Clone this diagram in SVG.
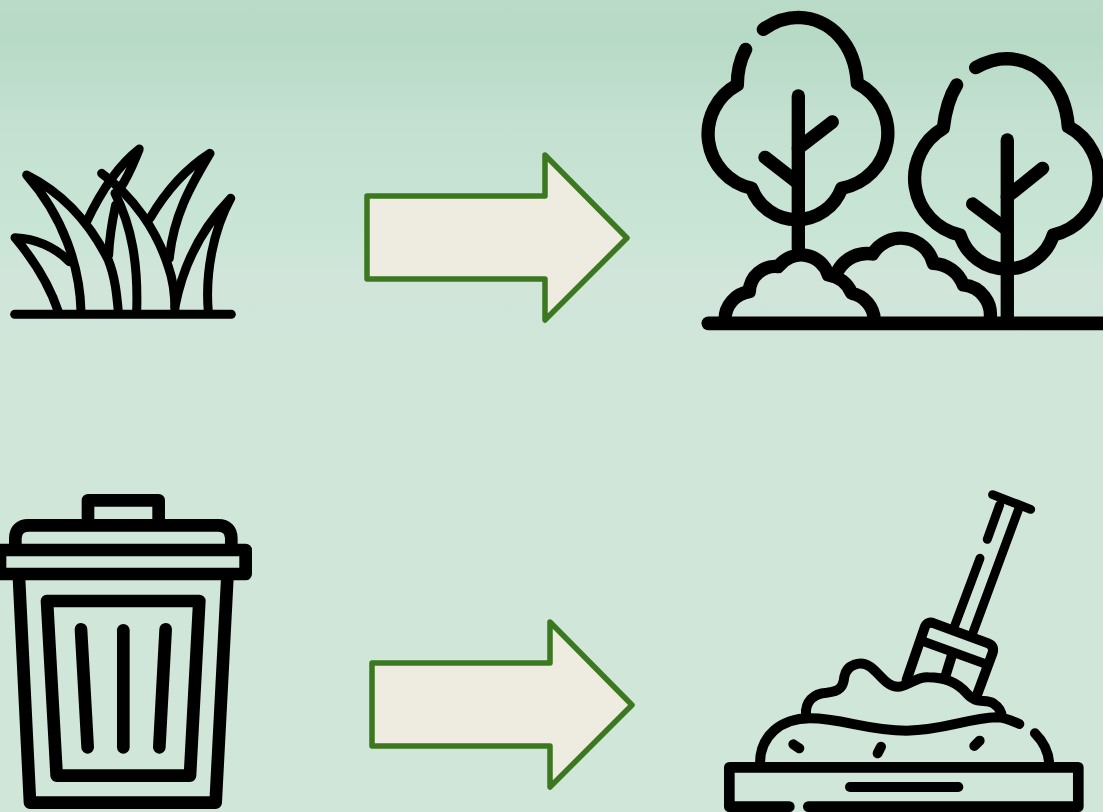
<svg xmlns="http://www.w3.org/2000/svg" width="1103" height="812" viewBox="0 0 1103 812">
<defs>
<linearGradient id="bg" x1="0" y1="0" x2="0" y2="1">
<stop offset="0" stop-color="#b9dbc7"/><stop offset="0.05" stop-color="#b7dac6"/><stop offset="0.14" stop-color="#c3e0d0"/><stop offset="0.29" stop-color="#c9e5d6"/><stop offset="0.34" stop-color="#d2e5da"/><stop offset="0.42" stop-color="#cfe6d9"/><stop offset="1" stop-color="#cfe6d9"/>
</linearGradient>
</defs>
<style>
.ic{fill:none;stroke:#000;stroke-linecap:round;stroke-linejoin:round}
.arrow{fill:#eeece0;stroke:#3b781f;stroke-width:5.5;stroke-linejoin:round}
</style>
<rect width="1103" height="812" fill="url(#bg)"/>
<g id="grass" class="ic" transform="translate(0 130) scale(.3333)" stroke-width="27">
<path d="M44 553H694"/>
<path d="M175 545C150 470 110 400 45 323C105 325 165 350 208 395"/>
<path d="M243 545C240 410 190 260 80 135C190 190 270 280 325 390C345 440 350 490 355 545"/>
<path d="M260 275C300 190 350 110 418 57C400 100 385 140 360 175"/>
<path d="M305 130C400 200 470 300 505 410C520 450 525 500 525 545"/>
<path d="M345 190C395 290 415 400 410 545"/>
<path d="M347 225C335 280 328 330 326 375"/>
<path d="M450 265C500 180 560 115 630 70C570 170 520 260 508 385"/>
<path d="M525 530C550 400 610 290 692 205C640 300 615 430 625 545"/>
</g>
<g id="trees" class="ic" transform="translate(690 0) scale(.3333)" stroke-width="40">
<path d="M55 970H1239" stroke-width="41"/>
<path d="M220 88C255 63 290 52 325 52C420 55 495 130 502 250A168 168 0 0 1 455 565A144 144 0 0 1 185 565A167 167 0 0 1 142 255C142 220 150 180 167 148"/>
<path d="M325 288V745"/>
<path d="M325 445L427 366"/>
<path d="M325 550L225 472"/>
<path d="M857 203C890 185 920 176 950 176C1040 178 1125 250 1135 380A175 175 0 0 1 1090 705A147 147 0 0 1 810 705A174 174 0 0 1 760 385C765 340 775 295 800 255"/>
<path d="M952 420V960"/>
<path d="M952 590L1058 505"/>
<path d="M952 690L848 612"/>
<path d="M105 960A85 85 0 0 1 178 875A78 78 0 0 1 265 800A85 85 0 0 1 415 825A90 90 0 0 1 485 880A85 85 0 0 1 553 960"/>
<path d="M445 810A100 100 0 0 1 548 762A100 100 0 0 1 730 790A100 100 0 0 1 820 855A90 90 0 0 1 900 960"/>
</g>
<g id="bin" class="ic" transform="translate(0 485) scale(.3333)" stroke-width="38">
<path d="M264 110V46H476V110"/>
<path d="M46 190V160C46 135 60 121 85 121H655C680 121 694 135 694 160V190"/>
<path d="M0 195H737V267H0Z"/>
<path d="M57 280L90 953H647L682 280"/>
<path d="M141 348H598L570 872H170Z"/>
<path d="M243 433L263 787"/>
<path d="M370 436V787"/>
<path d="M497 433L478 787"/>
</g>
<g id="compost" class="ic" transform="translate(710 480) scale(.3333)" stroke-width="30">
<path d="M848 44L962 88" stroke-width="27"/>
<path d="M869 75L832 178" stroke-width="27"/>
<path d="M810 235L735 435" stroke-width="27"/>
<path d="M925 90L790 455" stroke-width="27"/>
<path d="M590 600L645 440C650 428 660 425 672 430L835 490C848 495 852 505 848 518L803 640"/>
<path d="M642 485L826 552" stroke-width="28"/>
<path d="M726 525L706 590"/>
<path d="M288 705C285 665 310 640 350 638C390 635 400 620 403 590C410 555 450 540 480 560C510 580 530 625 570 620C600 615 620 590 655 592C700 592 740 605 770 640C800 675 825 655 850 670C865 680 875 695 875 710"/>
<path d="M150 850C150 770 210 715 300 715C400 715 470 752 590 752C700 752 770 715 860 712C885 712 905 722 928 732"/>
<path d="M975 760C1000 785 1015 810 1018 850"/>
<path d="M250 793L268 805"/>
<path d="M513 800L503 820"/>
<path d="M809 782L793 798"/>
<path d="M238 980H58V862H1105V980H295" stroke-width="32"/>
<path d="M420 921H745"/>
</g>
<g id="connectors">
<path id="arrow1" class="arrow" d="M367 196H545V155L627 238L545 320V279H367Z"/>
<path id="arrow2" class="arrow" d="M372 663H550V622L632 705L550 787V746H372Z"/>
</g>
</svg>
